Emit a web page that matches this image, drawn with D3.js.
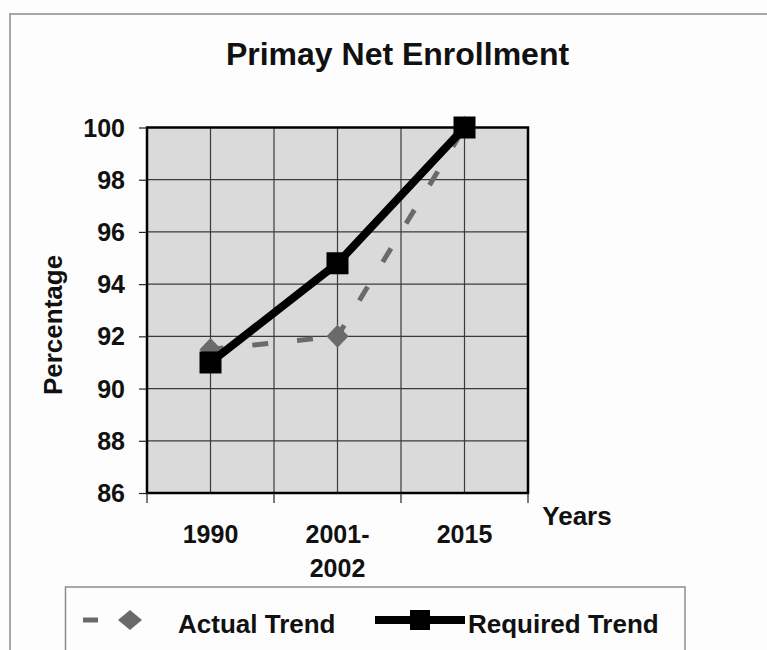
<!DOCTYPE html>
<html>
<head>
<meta charset="utf-8">
<script src="https://cdn.jsdelivr.net/npm/d3@7"></script>
<style>
  html, body { margin: 0; padding: 0; background: #fdfdfd; }
  svg { display: block; }
  text { font-family: "Liberation Sans", Arial, sans-serif; font-weight: bold; fill: #111; }
</style>
</head>
<body>
<svg id="chart" width="767" height="650"></svg>
<script>
// ---- data ----
const categories = ["1990", "2001-2002", "2015"];
const categoryLabels = [["1990"], ["2001-", "2002"], ["2015"]];
const actualTrend = [91.5, 92.0, 100];
const requiredTrend = [91.0, 94.8, 100];
const yTicks = [86, 88, 90, 92, 94, 96, 98, 100];
const seriesNames = ["Actual Trend", "Required Trend"];
const chartTitle = "Primay Net Enrollment";
const yTitle = "Percentage";
const xTitle = "Years";

// ---- layout ----
const svg = d3.select("#chart");
const plot = { left: 147, right: 528, top: 127.5, bottom: 493 };

const x = d3.scaleBand().domain(categories).range([plot.left, plot.right]).paddingInner(0).paddingOuter(0);
const y = d3.scaleLinear().domain([86, 100]).range([plot.bottom, plot.top]);
const xc = d => x(d) + x.bandwidth() / 2;

// outer frame
svg.append("rect").attr("x", 10).attr("y", 14).attr("width", 800).attr("height", 700)
  .attr("fill", "none").attr("stroke", "#8c8c8c").attr("stroke-width", 1.5);

// title
svg.append("text").attr("x", 397.5).attr("y", 65).attr("text-anchor", "middle")
  .style("font-size", "32px").text(chartTitle);

// plot background
svg.append("rect").attr("x", plot.left).attr("y", plot.top)
  .attr("width", plot.right - plot.left).attr("height", plot.bottom - plot.top)
  .attr("fill", "#dadada");

// horizontal gridlines
svg.append("g").selectAll("line").data(yTicks).join("line")
  .attr("x1", plot.left).attr("x2", plot.right)
  .attr("y1", d => y(d)).attr("y2", d => y(d))
  .attr("stroke", "#3a3a3a").attr("stroke-width", 1.2);

// vertical gridlines: band edges and band centres
const vGrid = [];
categories.forEach(c => { vGrid.push(x(c)); vGrid.push(xc(c)); });
svg.append("g").selectAll("line").data(vGrid).join("line")
  .attr("x1", d => d).attr("x2", d => d)
  .attr("y1", plot.top).attr("y2", plot.bottom)
  .attr("stroke", "#3a3a3a").attr("stroke-width", 1.2);

// plot border
svg.append("rect").attr("x", plot.left).attr("y", plot.top)
  .attr("width", plot.right - plot.left).attr("height", plot.bottom - plot.top)
  .attr("fill", "none").attr("stroke", "#000").attr("stroke-width", 2.5);

// y axis
const yAxis = d3.axisLeft(y).tickValues(yTicks).tickSize(8).tickPadding(14);
const gy = svg.append("g").attr("transform", `translate(${plot.left},0)`).call(yAxis);
gy.select(".domain").remove();
gy.selectAll(".tick line").attr("stroke", "#222").attr("stroke-width", 1.2);
gy.selectAll(".tick text").style("font-size", "25px").style("font-family", "'Liberation Sans', Arial, sans-serif")
  .style("font-weight", "bold").attr("fill", "#111").attr("dy", "0.34em");

// x axis ticks at band boundaries
const xBounds = categories.map(c => x(c)).concat([plot.right]);
svg.append("g").selectAll("line").data(xBounds).join("line")
  .attr("x1", d => d).attr("x2", d => d)
  .attr("y1", plot.bottom).attr("y2", plot.bottom + 10)
  .attr("stroke", "#222").attr("stroke-width", 1.2);

// x labels
categories.forEach((c, i) => {
  const t = svg.append("text").attr("x", xc(c)).attr("y", 543).attr("text-anchor", "middle")
    .style("font-size", "25px");
  categoryLabels[i].forEach((line, j) => {
    t.append("tspan").attr("x", xc(c)).attr("y", 543 + j * 34).text(line);
  });
});

// axis titles
svg.append("text").attr("transform", "translate(62,325) rotate(-90)").attr("text-anchor", "middle")
  .style("font-size", "26px").text(yTitle);
svg.append("text").attr("x", 577).attr("y", 525).attr("text-anchor", "middle")
  .style("font-size", "26px").text(xTitle);

// ---- series ----
const gray = "#6a6a6a";
const diamond = (cx, cy, hw, hh) => `M${cx},${cy - hh}L${cx + hw},${cy}L${cx},${cy + hh}L${cx - hw},${cy}Z`;

// actual trend: dashed segments (pattern restarts at each point)
const actualPts = categories.map((c, i) => [xc(c), y(actualTrend[i])]);
const segs = d3.pairs(actualPts);
svg.append("g").selectAll("path").data(segs).join("path")
  .attr("d", d => d3.line()(d))
  .attr("fill", "none").attr("stroke", gray).attr("stroke-width", 5)
  .attr("stroke-dasharray", "16,29").attr("stroke-dashoffset", 3);

svg.append("g").selectAll("path").data(actualPts).join("path")
  .attr("d", d => diamond(d[0], d[1], 11, 11.5))
  .attr("fill", gray);

// required trend
const reqPts = categories.map((c, i) => [xc(c), y(requiredTrend[i])]);
svg.append("path").attr("d", d3.line()(reqPts))
  .attr("fill", "none").attr("stroke", "#000").attr("stroke-width", 8).attr("stroke-linejoin", "round");
svg.append("g").selectAll("rect").data(reqPts).join("rect")
  .attr("x", d => d[0] - 11).attr("y", d => d[1] - 11)
  .attr("width", 22).attr("height", 22).attr("fill", "#000");

// ---- legend ----
const lg = svg.append("g");
lg.append("rect").attr("x", 65.5).attr("y", 587).attr("width", 619.5).attr("height", 100)
  .attr("fill", "none").attr("stroke", "#8c8c8c").attr("stroke-width", 1.5);
const ly = 620;
lg.append("line").attr("x1", 83).attr("x2", 98).attr("y1", ly).attr("y2", ly)
  .attr("stroke", gray).attr("stroke-width", 5);
lg.append("path").attr("d", diamond(130, ly, 12, 10)).attr("fill", gray);
lg.append("text").attr("x", 178).attr("y", 633).style("font-size", "26px").text(seriesNames[0]);

lg.append("line").attr("x1", 375).attr("x2", 465).attr("y1", ly).attr("y2", ly)
  .attr("stroke", "#000").attr("stroke-width", 8);
lg.append("rect").attr("x", 410).attr("y", ly - 10).attr("width", 20).attr("height", 20).attr("fill", "#000");
lg.append("text").attr("x", 468).attr("y", 633).style("font-size", "26px").text(seriesNames[1]);
</script>
</body>
</html>
